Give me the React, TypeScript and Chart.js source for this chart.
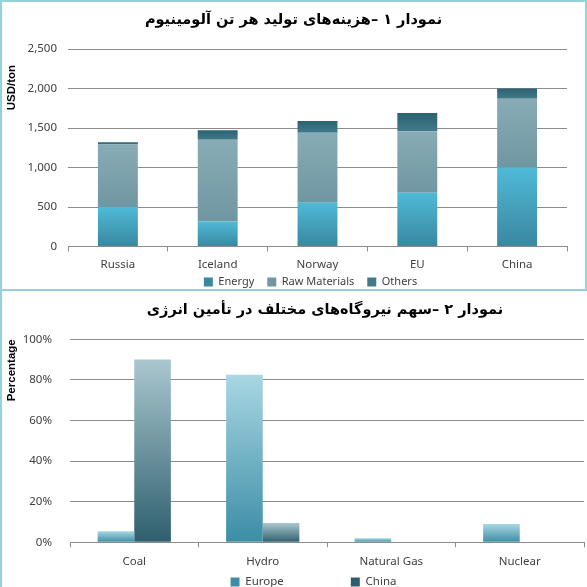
import React, { useEffect, useRef } from "react";
import { Chart, registerables } from "chart.js";

Chart.register(...registerables);

// ---- Chart 1 data: production cost per ton of aluminium (USD/ton)
const costCategories = ["Russia", "Iceland", "Norway", "EU", "China"];
const energyCost = [500, 315, 555, 680, 1000];
const rawMaterialsCost = [790, 1035, 885, 780, 870];
const othersCost = [30, 120, 150, 230, 130];
const costSeriesLabels = ["Energy", "Raw Materials", "Others"];

// ---- Chart 2 data: share of power plants in energy supply (%)
const sourceCategories = ["Coal", "Hydro", "Natural Gas", "Nuclear"];
const europeShare = [5.5, 82.5, 2, 9];
const chinaShare = [90, 9.5, 0, 0];
const shareSeriesLabels = ["Europe", "China"];

const title1 = "نمودار ۱ –هزینه\u200cهای تولید هر تن آلومینیوم";
const title2 = "نمودار ۲ –سهم نیروگاه\u200cهای مختلف در تأمین انرژی";

const TICK_FONT = { family: "'Noto Sans', 'DejaVu Sans', sans-serif", size: 11.5 };
const LEGEND_FONT = { family: "'Noto Sans', 'DejaVu Sans', sans-serif", size: 11 };
const TITLE_FONT = { family: "'DejaVu Sans', sans-serif", size: 14.5, weight: "bold" as const };
const AXIS_TITLE_FONT = { family: "'Liberation Sans', Arial, sans-serif", size: 11.5, weight: "bold" as const };
const GRID = "#8c8c8c";
const TEXT = "#404040";

function gradientFill(stops: [string, string], legendColor: string, below: number[][], values: number[]) {
  return (ctx: any) => {
    if (ctx.type !== "data") return legendColor;
    const chart = ctx.chart;
    const y = chart.scales && chart.scales.y;
    if (!y || !chart.chartArea) return legendColor;
    const i = ctx.dataIndex;
    const base = below.reduce((s, arr) => s + arr[i], 0);
    const top = base + values[i];
    const y0 = y.getPixelForValue(top);
    const y1 = y.getPixelForValue(base);
    if (!isFinite(y0) || !isFinite(y1) || Math.abs(y1 - y0) < 0.5) return stops[1];
    const g = chart.ctx.createLinearGradient(0, y0, 0, y1);
    g.addColorStop(0, stops[0]);
    g.addColorStop(1, stops[1]);
    return g;
  };
}

// moves the built-in legend box so its text row sits at textY (canvas px), shifted by dx
function legendShift(dx: number, textY: number, padding: number, itemHeight: number) {
  return {
    id: "legendShift",
    afterLayout(chart: any) {
      const lg = chart.legend;
      if (!lg) return;
      lg.left += dx;
      lg.right += dx;
      lg.top = textY - padding - itemHeight / 2;
      lg.bottom = chart.height;
      lg.height = lg.bottom - lg.top;
    },
  };
}

export default function App() {
  const ref1 = useRef<HTMLCanvasElement>(null);
  const ref2 = useRef<HTMLCanvasElement>(null);

  useEffect(() => {
    if (!ref1.current || !ref2.current) return;

    const c1 = new Chart(ref1.current, {
      type: "bar",
      data: {
        labels: costCategories,
        datasets: [
          {
            label: costSeriesLabels[0],
            data: energyCost,
            backgroundColor: gradientFill(["#4fbad7", "#3a87a0"], "#3eabcb", [], energyCost),
          },
          {
            label: costSeriesLabels[1],
            data: rawMaterialsCost,
            backgroundColor: gradientFill(["#88acb6", "#6f97a2"], "#8fbfcb", [energyCost], rawMaterialsCost),
          },
          {
            label: costSeriesLabels[2],
            data: othersCost,
            backgroundColor: gradientFill(["#2b6272", "#437a8a"], "#346e7e", [energyCost, rawMaterialsCost], othersCost),
          },
        ],
      },
      options: {
        animation: false,
        responsive: false,
        datasets: { bar: { barPercentage: 0.4, categoryPercentage: 1 } },
        layout: { padding: 0 },
        plugins: {
          title: {
            display: true,
            text: title1,
            font: TITLE_FONT,
            color: "#000",
            padding: { top: 10, bottom: 19.6 },
          },
          legend: {
            display: true,
            position: "bottom",
            maxHeight: 18.5,
            labels: {
              boxWidth: 9,
              boxHeight: 9,
              padding: 13,
              color: TEXT,
              font: LEGEND_FONT,
            },
          },
          tooltip: { enabled: false },
        },
        scales: {
          x: {
            stacked: true,
            grid: { display: true, drawOnChartArea: false, drawTicks: true, tickLength: 5, offset: true, color: GRID },
            border: { display: true, color: GRID },
            ticks: { color: TEXT, font: TICK_FONT, padding: 6 },
            afterFit: (s: any) => {
              s.height = 24;
            },
          },
          y: {
            stacked: true,
            min: 0,
            max: 2500,
            ticks: { stepSize: 500, color: TEXT, font: TICK_FONT, padding: 11 },
            grid: { color: GRID, drawTicks: false },
            border: { display: false },
            title: {
              display: true,
              text: "USD/ton\u00a0\u00a0\u00a0\u00a0\u00a0",
              align: "end",
              font: AXIS_TITLE_FONT,
              color: "#000",
              padding: { top: 3, bottom: 0 },
            },
            afterFit: (s: any) => {
              s.width = 66;
            },
          },
          yR: {
            type: "linear",
            position: "right",
            grid: { display: false, drawTicks: false },
            border: { display: false },
            ticks: { display: false },
            afterFit: (s: any) => {
              s.width = 18;
            },
          },
        },
      } as any,
      plugins: [legendShift(17, 280, 13, 11)],
    });

    const c2 = new Chart(ref2.current, {
      type: "bar",
      data: {
        labels: sourceCategories,
        datasets: [
          {
            label: shareSeriesLabels[0],
            data: europeShare,
            backgroundColor: gradientFill(["#a9d7e3", "#3c8da5"], "#6cb9d0", [], europeShare),
          },
          {
            label: shareSeriesLabels[1],
            data: chinaShare,
            backgroundColor: gradientFill(["#aac7cf", "#2e5f6e"], "#4f7f8c", [], chinaShare),
          },
        ],
      },
      options: {
        animation: false,
        responsive: false,
        datasets: { bar: { barPercentage: 1, categoryPercentage: 0.57 } },
        layout: { padding: 0 },
        plugins: {
          title: {
            display: true,
            text: title2,
            font: TITLE_FONT,
            color: "#000",
            padding: { top: 10.3, bottom: 20.6 },
          },
          legend: {
            display: true,
            position: "bottom",
            maxHeight: 29.7,
            labels: {
              boxWidth: 9,
              boxHeight: 9,
              padding: 67,
              color: TEXT,
              font: TICK_FONT,
            },
          },
          tooltip: { enabled: false },
        },
        scales: {
          x: {
            grid: { display: true, drawOnChartArea: false, drawTicks: true, tickLength: 5, offset: true, color: GRID },
            border: { display: true, color: GRID },
            ticks: { color: TEXT, font: TICK_FONT, padding: 8 },
            afterFit: (s: any) => {
              s.height = 24;
            },
          },
          y: {
            min: 0,
            max: 100,
            ticks: {
              stepSize: 20,
              color: TEXT,
              font: TICK_FONT,
              padding: 18,
              callback: (v: any) => v + "%",
            },
            grid: { color: GRID, drawTicks: false },
            border: { display: false },
            title: {
              display: true,
              text: "Percentage",
              align: "end",
              font: AXIS_TITLE_FONT,
              color: "#000",
              padding: { top: 3, bottom: 0 },
            },
            afterFit: (s: any) => {
              s.width = 68;
            },
          },
          yR: {
            type: "linear",
            position: "right",
            grid: { display: false, drawTicks: false },
            border: { display: false },
            ticks: { display: false },
            afterFit: (s: any) => {
              s.width = 64;
            },
          },
        },
      } as any,
      plugins: [legendShift(-11.5, 291, 67, 11.5)],
    });

    return () => {
      c1.destroy();
      c2.destroy();
    };
  }, []);

  const border = "2px solid #94d2da";
  return (
    <div
      style={{
        position: "fixed",
        left: 0,
        top: 0,
        width: 587,
        height: 587,
        overflow: "hidden",
        background: "#fff",
      }}
    >
      <div
        style={{
          position: "absolute",
          left: 0,
          top: 0,
          width: 587,
          height: 291,
          boxSizing: "border-box",
          border,
        }}
      >
        <canvas ref={ref1} width={583} height={287} style={{ display: "block", width: 583, height: 287 }} />
      </div>
      <div
        style={{
          position: "absolute",
          left: 0,
          top: 289,
          width: 650,
          height: 320,
          boxSizing: "border-box",
          border,
        }}
      >
        <canvas ref={ref2} width={646} height={305} style={{ display: "block", width: 646, height: 305 }} />
      </div>
    </div>
  );
}
